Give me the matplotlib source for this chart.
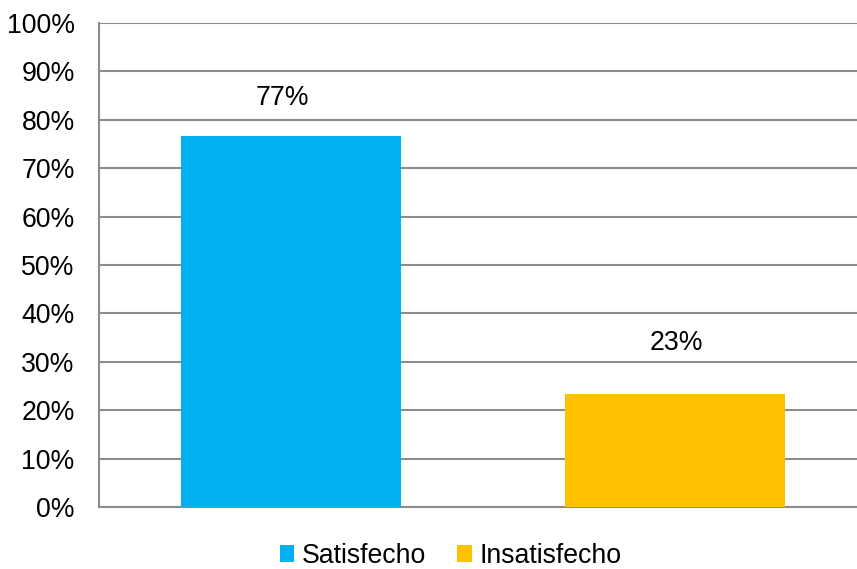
import matplotlib
matplotlib.use("Agg")
import matplotlib.pyplot as plt
from matplotlib.patches import Patch

series = ["Satisfecho", "Insatisfecho"]
shares = [0.7665, 0.2335]
colors = ["#00B0F0", "#FFC000"]
yticks = [0.0, 0.1, 0.2, 0.3, 0.4, 0.5, 0.6, 0.7, 0.8, 0.9, 1.0]

plt.rcParams["font.family"] = ["Liberation Sans", "DejaVu Sans"]
FS = 19.2

fig = plt.figure(figsize=(8.57, 5.69), dpi=100)
ax = fig.add_axes([99 / 857, 1 - 507 / 569, 758 / 857, 484 / 569])

positions = list(range(len(series)))
ax.bar(positions, shares, width=0.573, color=colors, zorder=3)

ax.set_xlim(-0.5, 1.474)
ax.set_ylim(0, 1)
ax.set_yticks(yticks)
ax.set_yticklabels([f"{v:.0%}" for v in yticks], fontsize=FS, color="#000000")
ax.set_xticks([])
ax.tick_params(axis="y", length=0, pad=17.5)
ax.yaxis.grid(True, color="#8C8C8C", linewidth=1.5, zorder=0)
ax.set_axisbelow(True)

for side in ("top", "right"):
    ax.spines[side].set_visible(False)
for side in ("left", "bottom"):
    ax.spines[side].set_color("#8C8C8C")
    ax.spines[side].set_linewidth(1.5)

label_offsets = [(-6, 27.5), (1, 36.5)]
for x, v, off in zip(positions, shares, label_offsets):
    ax.annotate(f"{v:.0%}", xy=(x, v), xytext=off, textcoords="offset points",
                ha="center", va="center", fontsize=FS, color="#000000")

handles = [Patch(facecolor=c, edgecolor="none") for c in colors]
fig.legend(handles, series, loc="center", bbox_to_anchor=(0.526, 0.023),
           ncol=2, frameon=False, fontsize=FS, handlelength=0.55,
           handleheight=0.55, handletextpad=0.3, columnspacing=1.15,
           borderpad=0.1)

fig.savefig("out.png", dpi=100)
